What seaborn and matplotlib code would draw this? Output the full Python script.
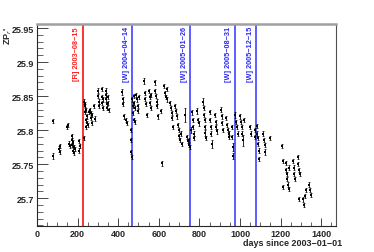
import numpy as np
import pandas as pd
import seaborn as sns
import matplotlib.pyplot as plt

# days since 2003-01-01, ZP value, error
days = [79, 79, 110, 113, 115, 150, 155, 158, 162, 170, 172, 174, 176, 178, 180, 182, 185, 205, 208, 213, 232,
        234, 235, 236, 238, 240, 240, 243, 245, 248, 252, 258, 262, 264, 266, 270, 272, 282, 284,
        300, 302, 304, 306, 318, 320, 322, 324, 326, 338, 340, 342, 344, 346, 350, 352, 355,
        420, 422, 424, 430, 440, 442, 462, 464, 465, 466,
        470, 472, 474, 476, 478, 480, 482, 485, 490, 494, 497, 500, 503, 527, 530, 533, 536, 540,
        552, 555, 558, 561, 564, 580, 583, 586, 589, 592, 595, 610, 614, 626, 630, 634, 638, 642,
        656, 660, 663, 667, 671, 682, 685, 688, 696, 699, 702, 705, 708, 712, 730, 741, 744, 747, 750, 753,
        760, 765, 767, 770, 772, 775, 790, 794, 798, 820, 822, 824, 826, 828, 830, 832,
        850, 853, 856, 858, 860, 876, 880, 884, 888, 906, 909, 912, 915, 932, 936, 940, 944, 948,
        960, 962, 964, 966,
        976, 980, 984, 988, 1000, 1004, 1008, 1012, 1016, 1022, 1050, 1053, 1072, 1076,
        1082, 1085, 1088, 1090, 1093, 1095, 1115, 1118, 1122, 1124, 1150, 1208, 1210, 1210,
        1225, 1228, 1231, 1234, 1237, 1240, 1242, 1262, 1265, 1268, 1270, 1285, 1288, 1291, 1294, 1290,
        1310, 1314, 1320, 1325, 1340, 1344, 1348]
zp = [25.762, 25.813, 25.772, 25.776, 25.768, 25.804, 25.808, 25.780, 25.776, 25.785, 25.792, 25.778, 25.770, 25.782, 25.775, 25.766, 25.772, 25.784, 25.770, 25.777, 25.788,
      25.842, 25.835, 25.826, 25.838, 25.815, 25.805, 25.830, 25.820, 25.810, 25.808, 25.826, 25.830, 25.818, 25.825, 25.810, 25.822, 25.836, 25.817,
      25.858, 25.850, 25.842, 25.835, 25.860, 25.848, 25.840, 25.832, 25.845, 25.858, 25.852, 25.845, 25.838, 25.832, 25.848, 25.840, 25.830,
      25.856, 25.845, 25.838, 25.820, 25.815, 25.810, 25.800, 25.786, 25.768, 25.760,
      25.845, 25.835, 25.825, 25.815, 25.850, 25.840, 25.832, 25.812, 25.852, 25.845, 25.836, 25.828, 25.848, 25.872, 25.855, 25.846, 25.838, 25.822,
      25.858, 25.848, 25.840, 25.832, 25.852, 25.870, 25.858, 25.850, 25.842, 25.835, 25.820, 25.828, 25.751, 25.865, 25.855, 25.848, 25.860, 25.845,
      25.840, 25.832, 25.825, 25.818, 25.804, 25.836, 25.828, 25.820, 25.808, 25.800, 25.792, 25.786, 25.795, 25.780, 25.822, 25.790, 25.784, 25.778, 25.786, 25.775,
      25.800, 25.826, 25.815, 25.805, 25.795, 25.788, 25.828, 25.815, 25.810, 25.842, 25.832, 25.822, 25.815, 25.805, 25.796, 25.788,
      25.826, 25.815, 25.805, 25.795, 25.780, 25.822, 25.812, 25.805, 25.798, 25.830, 25.820, 25.810, 25.800, 25.818, 25.808, 25.800, 25.795, 25.790,
      25.805, 25.790, 25.775, 25.762,
      25.822, 25.812, 25.805, 25.795, 25.820, 25.812, 25.805, 25.795, 25.785, 25.815, 25.805, 25.795, 25.800, 25.790,
      25.806, 25.795, 25.788, 25.780, 25.770, 25.758, 25.795, 25.786, 25.778, 25.768, 25.789, 25.777, 25.755, 25.716,
      25.752, 25.742, 25.735, 25.728, 25.720, 25.713, 25.745, 25.755, 25.745, 25.735, 25.728, 25.760, 25.750, 25.742, 25.735, 25.699,
      25.698, 25.690, 25.703, 25.712, 25.720, 25.712, 25.705]
err = [0.005, 0.003, 0.004, 0.003, 0.003, 0.003, 0.003, 0.004, 0.003, 0.004, 0.003, 0.003, 0.003, 0.004, 0.003, 0.003, 0.003, 0.003, 0.003, 0.003, 0.003,
       0.004, 0.003, 0.003, 0.004, 0.003, 0.003, 0.003, 0.003, 0.003, 0.003, 0.003, 0.003, 0.003, 0.003, 0.003, 0.003, 0.003, 0.003,
       0.004, 0.003, 0.003, 0.003, 0.003, 0.003, 0.003, 0.003, 0.003, 0.004, 0.003, 0.003, 0.003, 0.003, 0.003, 0.003, 0.003,
       0.005, 0.004, 0.003, 0.003, 0.003, 0.003, 0.003, 0.003, 0.003, 0.003,
       0.003, 0.003, 0.003, 0.003, 0.003, 0.003, 0.003, 0.003, 0.003, 0.003, 0.003, 0.003, 0.003, 0.004, 0.003, 0.003, 0.003, 0.003,
       0.003, 0.003, 0.003, 0.003, 0.003, 0.004, 0.003, 0.003, 0.003, 0.003, 0.004, 0.003, 0.004, 0.003, 0.003, 0.003, 0.003, 0.003,
       0.003, 0.003, 0.003, 0.003, 0.003, 0.003, 0.003, 0.003, 0.003, 0.003, 0.003, 0.003, 0.003, 0.003, 0.010, 0.003, 0.003, 0.003, 0.003, 0.003,
       0.004, 0.004, 0.003, 0.003, 0.003, 0.003, 0.004, 0.003, 0.004, 0.005, 0.003, 0.003, 0.003, 0.003, 0.004, 0.003,
       0.003, 0.003, 0.003, 0.004, 0.006, 0.003, 0.003, 0.003, 0.003, 0.004, 0.003, 0.003, 0.003, 0.003, 0.003, 0.003, 0.003, 0.003,
       0.003, 0.003, 0.006, 0.004,
       0.004, 0.003, 0.003, 0.003, 0.003, 0.003, 0.003, 0.003, 0.008, 0.003, 0.003, 0.003, 0.003, 0.003,
       0.003, 0.003, 0.003, 0.003, 0.003, 0.003, 0.003, 0.003, 0.003, 0.004, 0.003, 0.003, 0.003, 0.003,
       0.003, 0.003, 0.003, 0.003, 0.003, 0.003, 0.003, 0.003, 0.003, 0.003, 0.003, 0.003, 0.003, 0.003, 0.003, 0.003,
       0.003, 0.003, 0.003, 0.003, 0.003, 0.003, 0.003]

# instrument changes
event_days = [226, 469, 756, 973, 1079]
event_labels = ["[R] 2003\u221208\u221215", "[W] 2004\u221204\u221214", "[W] 2005\u221201\u221226",
                "[W] 2005\u221208\u221231", "[W] 2005\u221212\u221215"]
event_colors = ["#ff2020", "#5050ff", "#5050ff", "#5050ff", "#5050ff"]
text_colors = ["#ff2020", "#2a2aee", "#2a2aee", "#2a2aee", "#2a2aee"]

df = pd.DataFrame({"days": days, "zp": zp, "err": err})

sns.set_style("ticks")
plt.rcParams["font.family"] = ["Liberation Sans", "DejaVu Sans"]

fig = plt.figure(figsize=(3.74, 2.53), dpi=100)
ax = fig.add_axes([37 / 374, 1 - 227 / 253, 299 / 374, 202 / 253])

for d, c in zip(event_days, event_colors):
    ax.axvline(d, color=c, lw=1.3, zorder=1)
for d, lab, c in zip(event_days, event_labels, text_colors):
    ax.text(d - 12, 25.953, lab, rotation=90, ha="right", va="top", color=c,
            fontsize=5.3, fontweight="bold")

ax.errorbar(df["days"], df["zp"], yerr=df["err"], fmt="none", ecolor="black",
            elinewidth=0.6, capsize=0.9, capthick=0.5, zorder=3)
sns.scatterplot(data=df, x="days", y="zp", ax=ax, s=1.5, color="black",
                marker="s", linewidth=0, zorder=4)

ax.set_xlim(0, 1473)
ax.set_ylim(25.659, 25.956)
ax.set_xticks(np.arange(0, 1401, 200))
ax.set_xticks(np.arange(0, 1451, 50), minor=True)
ax.set_yticks([25.7, 25.75, 25.8, 25.85, 25.9, 25.95])
ax.set_yticklabels(["25.7", "25.75", "25.8", "25.85", "25.9", "25.95"])
ax.set_yticks(np.arange(25.66, 25.956, 0.01), minor=True)
ax.tick_params(axis="both", which="major", direction="in", labelsize=6.5, width=0.6, pad=2)
ax.tick_params(axis="y", which="major", length=8)
ax.tick_params(axis="x", which="major", length=6)
ax.tick_params(axis="y", which="minor", direction="in", length=4, width=0.5)
ax.tick_params(axis="x", which="minor", direction="in", length=3, width=0.5)
for t in ax.get_xticklabels() + ax.get_yticklabels():
    t.set_fontweight("bold")
ax.set_xlabel("")
ax.set_ylabel("")

ax.spines["top"].set_color("#a0a0a0")
ax.spines["top"].set_linewidth(1.8)
ax.spines["right"].set_color("#505050")
ax.spines["right"].set_linewidth(0.8)
ax.spines["left"].set_linewidth(0.8)
ax.spines["bottom"].set_linewidth(0.8)

fig.text(342 / 374, 1 - 244 / 253, "days since 2003\u221201\u221201", ha="right", va="center",
         fontsize=6.5, fontweight="bold")
fig.text(8 / 374, 1 - 27 / 253, "ZP$_{r}$'", rotation=90, ha="center", va="top",
         fontsize=6.5, fontweight="bold")

fig.savefig("out.png", dpi=100)
